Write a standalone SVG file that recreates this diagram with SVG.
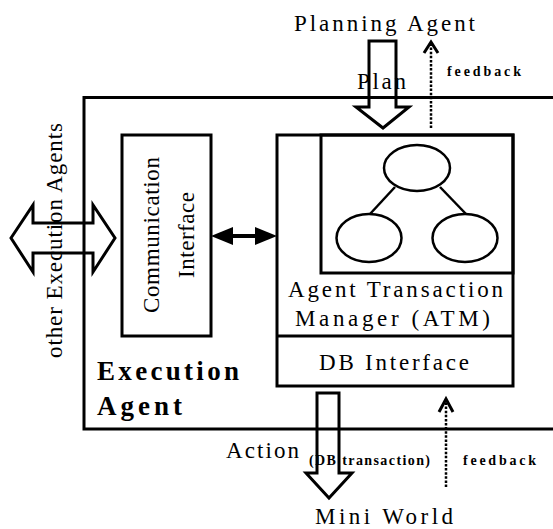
<svg xmlns="http://www.w3.org/2000/svg" width="553" height="529" viewBox="0 0 553 529">
<style>
text{font-family:'Liberation Serif','Times New Roman','DejaVu Serif','Noto Serif',serif;fill:#000}
.t{font-size:23px}
.b{font-weight:bold}
.box{fill:none;stroke:#000;stroke-width:3}
.hollow{fill:none;stroke:#000;stroke-width:3;stroke-linejoin:miter}
.dot{fill:none;stroke:#000;stroke-width:2.5;stroke-dasharray:2.5 1.6}
.chev{fill:none;stroke:#000;stroke-width:3}
.thin{fill:none;stroke:#000;stroke-width:2.5}
</style>
<rect width="553" height="529" fill="#fff"/>
<g id="execution-agent">
<polyline class="box" points="553,97.5 84,97.5 84,429 553,429"/>
<text class="b" font-size="27" x="97" y="380" textLength="142" lengthAdjust="spacing">Execution</text>
<text class="b" font-size="27" x="97" y="415" textLength="85" lengthAdjust="spacing">Agent</text>
</g>
<g id="communication-interface">
<rect class="box" x="122" y="135" width="89" height="201"/>
<text class="t" font-size="24" transform="rotate(-90 159 313)" x="159" y="313" textLength="156" lengthAdjust="spacing">Communication</text>
<text class="t" font-size="24" transform="rotate(-90 194 278)" x="194" y="278" textLength="86" lengthAdjust="spacing">Interface</text>
</g>
<g id="atm">
<rect class="box" x="277" y="135" width="236" height="251"/>
<rect class="box" x="321" y="135" width="192" height="138"/>
<line class="box" x1="277" y1="336" x2="513" y2="336"/>
<ellipse class="thin" cx="417" cy="168" rx="33" ry="23"/>
<ellipse class="thin" cx="369" cy="238" rx="32.5" ry="24"/>
<ellipse class="thin" cx="465" cy="238" rx="32.5" ry="24"/>
<line class="thin" x1="395" y1="187" x2="370" y2="214"/>
<line class="thin" x1="440" y1="187" x2="466" y2="214"/>
<text class="t" x="288" y="297" textLength="215" lengthAdjust="spacing">Agent Transaction</text>
<text class="t" x="295" y="326" textLength="195" lengthAdjust="spacing">Manager (ATM)</text>
</g>
<g id="db-interface">
<text class="t" x="319" y="370" textLength="150" lengthAdjust="spacing">DB Interface</text>
</g>
<g id="planning-agent">
<text class="t" x="294" y="31" textLength="181" lengthAdjust="spacing">Planning Agent</text>
</g>
<g id="mini-world">
<text class="t" x="315" y="524" textLength="138" lengthAdjust="spacing">Mini World</text>
</g>
<g id="other-execution-agents">
<text class="t" font-size="24" transform="rotate(-90 62 358)" x="62" y="358" textLength="235" lengthAdjust="spacing">other Execution Agents</text>
</g>
<g id="connectors">
<text class="t" x="357" y="89" textLength="49" lengthAdjust="spacing">Plan</text>
<polygon class="hollow" points="369,41 396,41 396,107 409,107 383,128 356,107 369,107"/>
<line class="dot" x1="431" y1="128" x2="431" y2="43"/>
<polyline class="chev" points="424,53 431,42 438,53"/>
<text class="b" font-size="14" x="447" y="76" textLength="74" lengthAdjust="spacing">feedback</text>
<polygon class="hollow" points="11,238 33,205 33,223 93,223 93,205 115,238 93,272 93,253 33,253 33,272"/>
<line stroke="#000" stroke-width="4" x1="228" y1="236" x2="262" y2="236"/>
<polygon points="211,236 233,227 233,245" fill="#000"/>
<polygon points="277,236 255,227 255,245" fill="#000"/>
<polygon class="hollow" points="317,393 339,393 339,473 352,473 329,498 306,473 317,473"/>
<text class="t" x="226" y="458" textLength="73" lengthAdjust="spacing">Action</text>
<text class="b" font-size="14" x="309" y="465" textLength="121" lengthAdjust="spacing">(DB transaction)</text>
<line class="dot" x1="446" y1="487" x2="446" y2="400"/>
<polyline class="chev" points="439,412 446,399 453,412"/>
<text class="b" font-size="14" x="463" y="465" textLength="73" lengthAdjust="spacing">feedback</text>
</g>
</svg>
